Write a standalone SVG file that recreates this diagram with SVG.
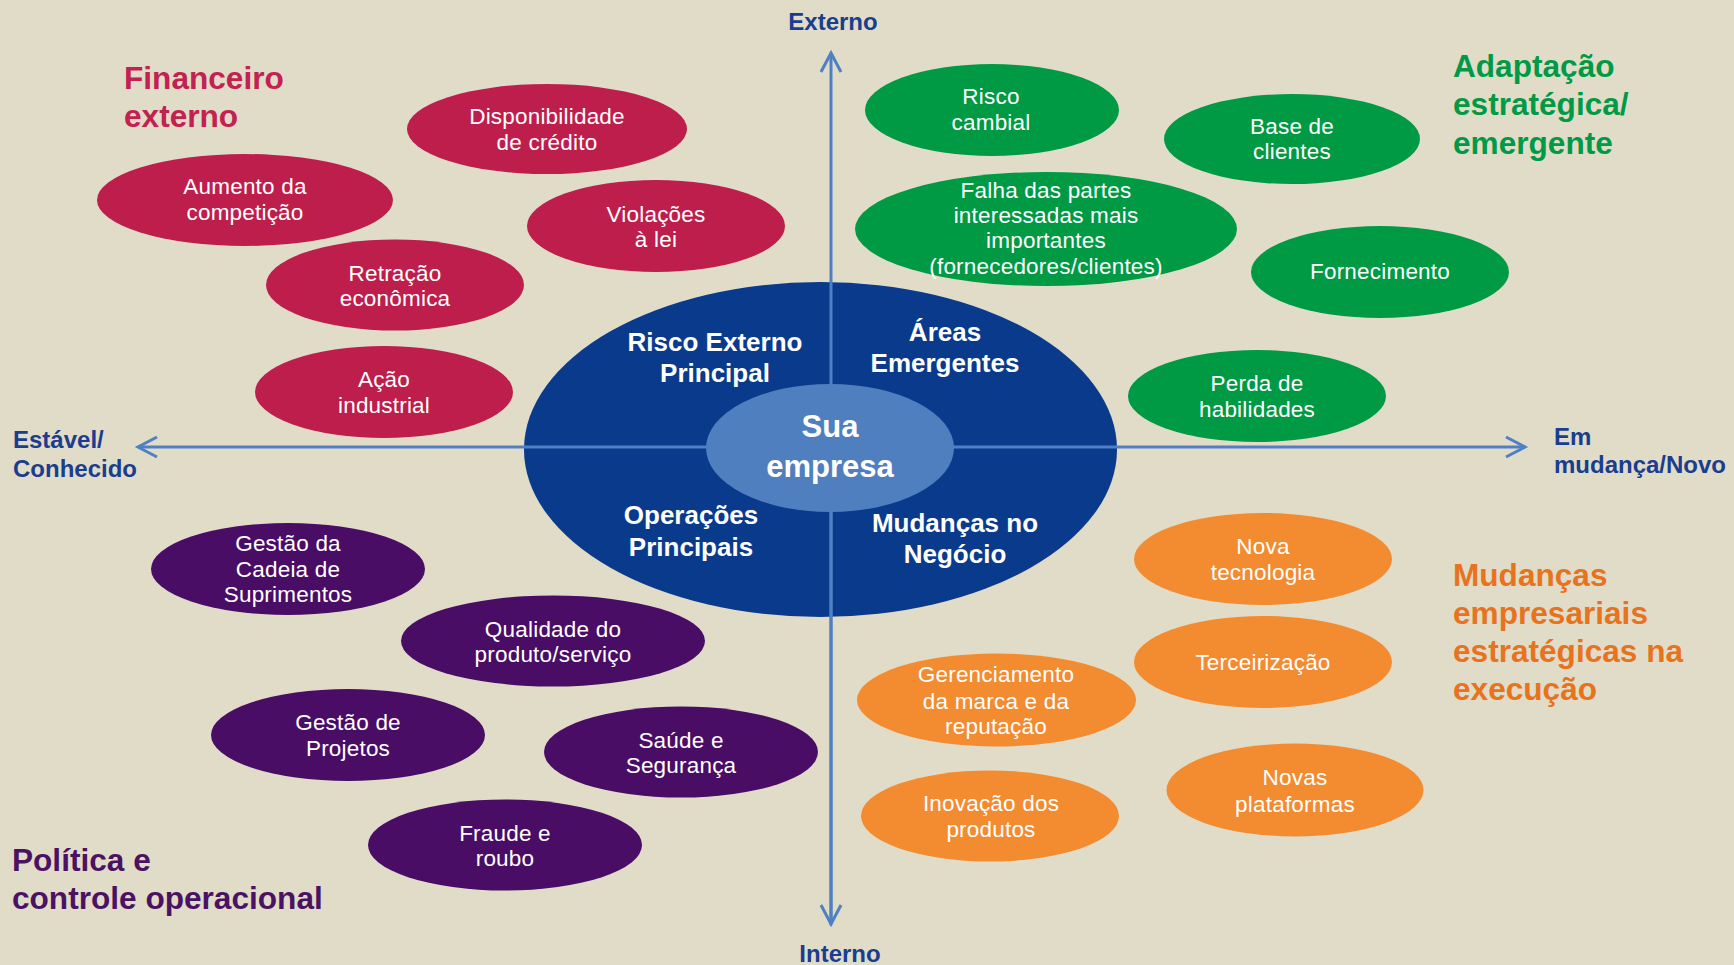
<svg xmlns="http://www.w3.org/2000/svg" width="1734" height="965" viewBox="0 0 1734 965">
<defs>
<style>
.t{font-family:"Liberation Sans",Arial,sans-serif;font-size:22.5px;fill:#ffffff;text-anchor:middle;letter-spacing:0.2px}
.b{font-family:"Liberation Sans",Arial,sans-serif;font-weight:bold;fill:#ffffff;text-anchor:middle}
.hd{font-family:"Liberation Sans",Arial,sans-serif;font-weight:bold;font-size:31.6px}
.ax{font-family:"Liberation Sans",Arial,sans-serif;font-weight:bold;font-size:24px;fill:#1a3d8f}
.cr{fill:#be1e4b}.gr{fill:#009a44}.pu{fill:#4a0d66}.or{fill:#f38b30}
.axis{stroke:#4f80c4;stroke-width:3;fill:none}
</style>
<marker id="arr" viewBox="-24 -14 28 28" refX="0" refY="0" markerWidth="28" markerHeight="28" orient="auto-start-reverse" markerUnits="userSpaceOnUse">
<path d="M-19,-10 L0,0 L-19,10" fill="none" stroke="#4f80c4" stroke-width="3"/>
</marker>
</defs>
<rect width="1734" height="965" fill="#e1dcc8"/>

<!-- Titles -->
<g id="title-financeiro" class="hd" fill="#c3214f">
<text x="124" y="89">Financeiro</text>
<text x="124" y="127">externo</text>
</g>
<g id="title-adaptacao" class="hd" fill="#009a46">
<text x="1453" y="77">Adaptação</text>
<text x="1453" y="115">estratégica/</text>
<text x="1453" y="154">emergente</text>
</g>
<g id="title-mudancas" class="hd" fill="#e8731e">
<text x="1453" y="586">Mudanças</text>
<text x="1453" y="624">empresariais</text>
<text x="1453" y="662">estratégicas na</text>
<text x="1453" y="700">execução</text>
</g>
<g id="title-politica" class="hd" fill="#4b1263">
<text x="12" y="871">Política e</text>
<text x="12" y="909">controle operacional</text>
</g>

<!-- Axis labels -->
<g id="axis-labels" class="ax">
<text x="833" y="30" text-anchor="middle">Externo</text>
<text x="840" y="962" text-anchor="middle">Interno</text>
<text x="13" y="448">Estável/</text>
<text x="13" y="477">Conhecido</text>
<text x="1554" y="445">Em</text>
<text x="1554" y="473">mudança/Novo</text>
</g>

<!-- Central big ellipse -->
<g id="core">
<ellipse cx="820.5" cy="449.5" rx="296.5" ry="167.5" fill="#0a3a8c"/>
</g>

<!-- Connectors (axes) -->
<g id="connectors">
<line class="axis" x1="831" y1="925" x2="831" y2="53" marker-end="url(#arr)"/>
<line class="axis" x1="831" y1="447" x2="831" y2="924" marker-end="url(#arr)"/>
<line class="axis" x1="831" y1="447" x2="138" y2="447" marker-end="url(#arr)"/>
<line class="axis" x1="831" y1="447" x2="1525" y2="447" marker-end="url(#arr)"/>
</g>

<g id="core-labels" class="b" font-size="26">
<text x="715" y="351">Risco Externo</text>
<text x="715" y="382">Principal</text>
<text x="945" y="341">Áreas</text>
<text x="945" y="372">Emergentes</text>
<text x="691" y="524">Operações</text>
<text x="691" y="556">Principais</text>
<text x="955" y="532">Mudanças no</text>
<text x="955" y="563">Negócio</text>
</g>

<g id="sua-empresa">
<ellipse cx="830" cy="448" rx="124" ry="64" fill="#4f7fbe"/>
<text class="b" font-size="31" x="830" y="437">Sua</text>
<text class="b" font-size="31" x="830" y="477">empresa</text>
</g>

<!-- Crimson nodes -->
<g id="disponibilidade">
<ellipse class="cr" cx="547" cy="129" rx="140" ry="45"/>
<text class="t" x="547" y="124">Disponibilidade</text>
<text class="t" x="547" y="150">de crédito</text>
</g>
<g id="aumento">
<ellipse class="cr" cx="245" cy="200" rx="148" ry="46"/>
<text class="t" x="245" y="194">Aumento da</text>
<text class="t" x="245" y="220">competição</text>
</g>
<g id="violacoes">
<ellipse class="cr" cx="656" cy="226" rx="129" ry="46"/>
<text class="t" x="656" y="222">Violações</text>
<text class="t" x="656" y="247">à lei</text>
</g>
<g id="retracao">
<ellipse class="cr" cx="395" cy="285" rx="129" ry="45.5"/>
<text class="t" x="395" y="281">Retração</text>
<text class="t" x="395" y="306">econômica</text>
</g>
<g id="acao">
<ellipse class="cr" cx="384" cy="392" rx="129" ry="46"/>
<text class="t" x="384" y="387">Ação</text>
<text class="t" x="384" y="413">industrial</text>
</g>

<!-- Green nodes -->
<g id="risco-cambial">
<ellipse class="gr" cx="992" cy="110" rx="127" ry="46"/>
<text class="t" x="991" y="104">Risco</text>
<text class="t" x="991" y="130">cambial</text>
</g>
<g id="base-clientes">
<ellipse class="gr" cx="1292" cy="139" rx="128" ry="45"/>
<text class="t" x="1292" y="134">Base de</text>
<text class="t" x="1292" y="159">clientes</text>
</g>
<g id="falha">
<ellipse class="gr" cx="1046" cy="229" rx="191" ry="57"/>
<text class="t" x="1046" y="198">Falha das partes</text>
<text class="t" x="1046" y="223">interessadas mais</text>
<text class="t" x="1046" y="248">importantes</text>
<text class="t" x="1046" y="274">(fornecedores/clientes)</text>
</g>
<g id="fornecimento">
<ellipse class="gr" cx="1380" cy="272" rx="129" ry="46"/>
<text class="t" x="1380" y="279">Fornecimento</text>
</g>
<g id="perda">
<ellipse class="gr" cx="1257" cy="396" rx="129" ry="46"/>
<text class="t" x="1257" y="391">Perda de</text>
<text class="t" x="1257" y="417">habilidades</text>
</g>

<!-- Purple nodes -->
<g id="gestao-cadeia">
<ellipse class="pu" cx="288" cy="569" rx="137" ry="46"/>
<text class="t" x="288" y="551">Gestão da</text>
<text class="t" x="288" y="577">Cadeia de</text>
<text class="t" x="288" y="602">Suprimentos</text>
</g>
<g id="qualidade">
<ellipse class="pu" cx="553" cy="641" rx="152" ry="45.5"/>
<text class="t" x="553" y="637">Qualidade do</text>
<text class="t" x="553" y="662">produto/serviço</text>
</g>
<g id="gestao-projetos">
<ellipse class="pu" cx="348" cy="735" rx="137" ry="46"/>
<text class="t" x="348" y="730">Gestão de</text>
<text class="t" x="348" y="756">Projetos</text>
</g>
<g id="saude">
<ellipse class="pu" cx="681" cy="752" rx="137" ry="45.5"/>
<text class="t" x="681" y="748">Saúde e</text>
<text class="t" x="681" y="773">Segurança</text>
</g>
<g id="fraude">
<ellipse class="pu" cx="505" cy="845" rx="137" ry="45.5"/>
<text class="t" x="505" y="841">Fraude e</text>
<text class="t" x="505" y="866">roubo</text>
</g>

<!-- Orange nodes -->
<g id="nova-tecnologia">
<ellipse class="or" cx="1263" cy="559" rx="129" ry="46"/>
<text class="t" x="1263" y="554">Nova</text>
<text class="t" x="1263" y="580">tecnologia</text>
</g>
<g id="terceirizacao">
<ellipse class="or" cx="1263" cy="662" rx="129" ry="46"/>
<text class="t" x="1263" y="670">Terceirização</text>
</g>
<g id="gerenciamento">
<ellipse class="or" cx="996.5" cy="700" rx="139.5" ry="46.5"/>
<text class="t" x="996" y="682">Gerenciamento</text>
<text class="t" x="996" y="709">da marca e da</text>
<text class="t" x="996" y="734">reputação</text>
</g>
<g id="inovacao">
<ellipse class="or" cx="990" cy="816" rx="129" ry="45.5"/>
<text class="t" x="991" y="811">Inovação dos</text>
<text class="t" x="991" y="837">produtos</text>
</g>
<g id="novas-plataformas">
<ellipse class="or" cx="1295" cy="790" rx="128.5" ry="46.5"/>
<text class="t" x="1295" y="785">Novas</text>
<text class="t" x="1295" y="812">plataformas</text>
</g>
</svg>
